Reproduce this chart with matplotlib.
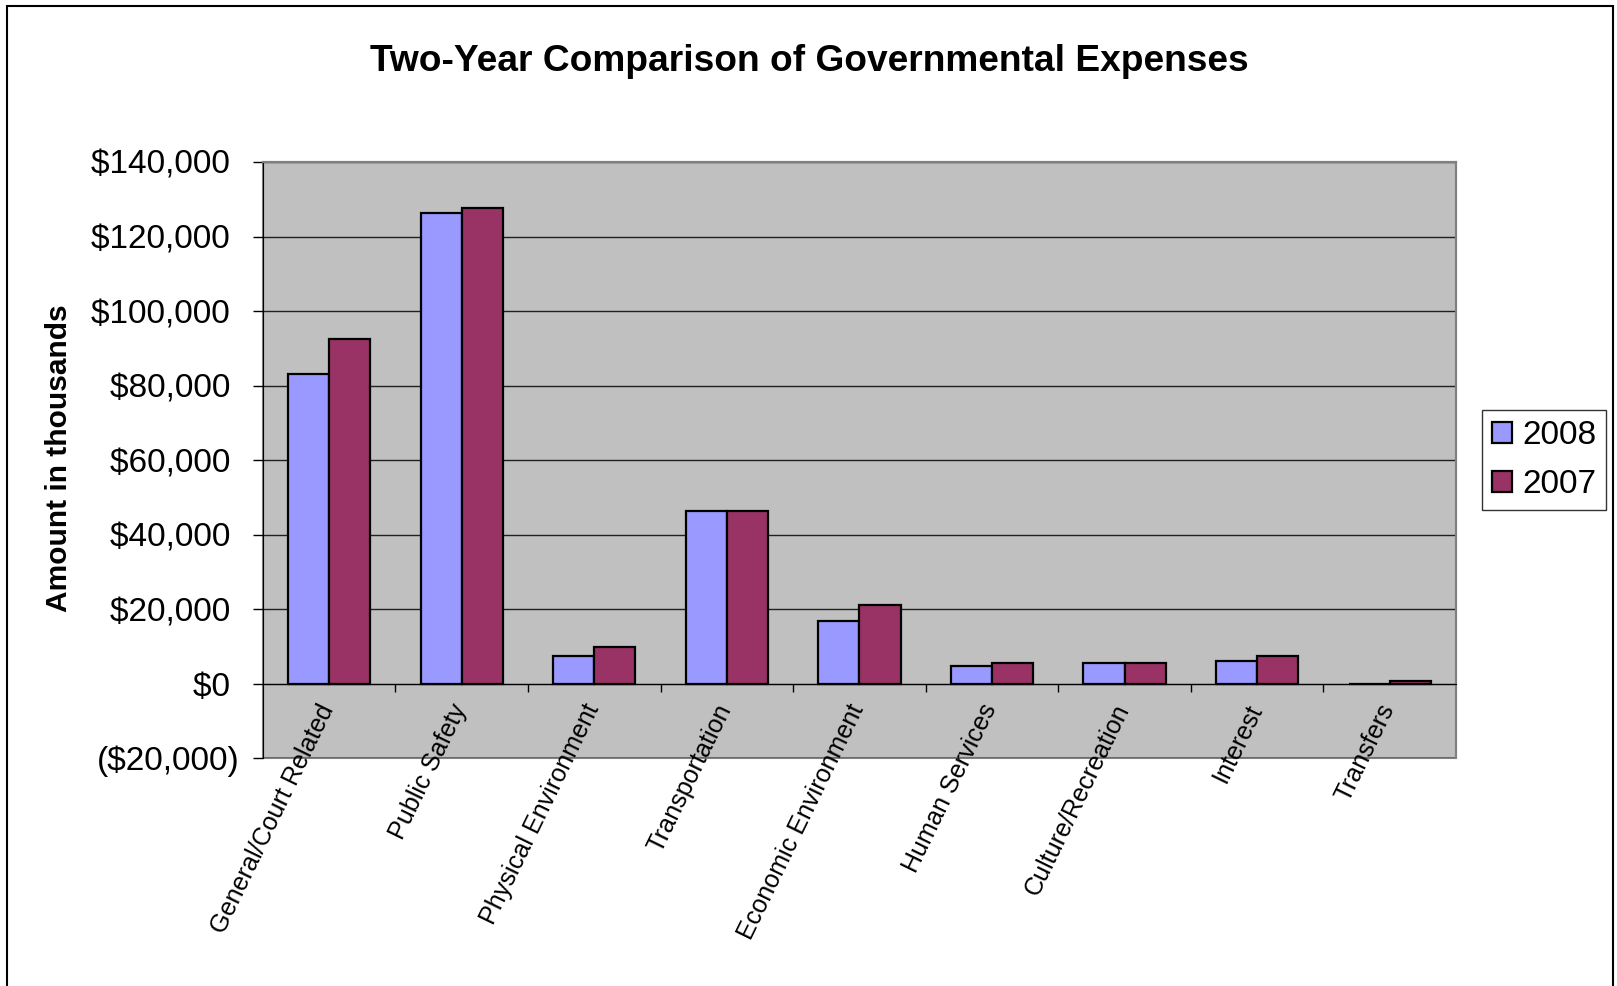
import numpy as np
import matplotlib
matplotlib.use("Agg")
import matplotlib.pyplot as plt
from matplotlib.patches import Rectangle
from matplotlib.ticker import FuncFormatter

plt.rcParams['font.family'] = ['Liberation Sans', 'DejaVu Sans']

# data (amount in thousands)
categories = ["General/Court Related", "Public Safety", "Physical Environment",
              "Transportation", "Economic Environment", "Human Services",
              "Culture/Recreation", "Interest", "Transfers"]
y2008 = [83200, 126400, 7400, 46200, 16900, 4800, 5400, 6100, 0]
y2007 = [92500, 127700, 9800, 46200, 21200, 5500, 5400, 7300, 600]
series_names = ["2008", "2007"]


def money(v, pos):
    # accounting style: positives keep room for the closing parenthesis
    if v < 0:
        return "(${:,.0f})".format(-v)
    return "${:,.0f} ".format(v)


def main():
    fig = plt.figure(figsize=(16.17, 9.86), dpi=100)
    ax = fig.add_axes([0.1626, 0.2312, 0.7378, 0.6045])

    x = np.arange(len(categories))
    w = 0.31
    ax.bar(x - w/2, y2008, w, color="#9999FF", edgecolor="black", lw=1.6,
           label=series_names[0], zorder=3)
    ax.bar(x + w/2, y2007, w, color="#993366", edgecolor="black", lw=1.6,
           label=series_names[1], zorder=3)

    ax.set_xlim(-0.5, len(categories) - 0.5)
    ax.set_ylim(-20000, 140000)
    ax.set_facecolor("#C0C0C0")
    ax.set_yticks(np.arange(-20000, 140001, 20000))
    ax.yaxis.set_major_formatter(FuncFormatter(money))
    ax.grid(axis="y", color="#202020", lw=1, zorder=1)
    ax.tick_params(axis="y", direction="out", length=7, width=1,
                   labelsize=24, pad=10)

    # category axis crosses at zero, labels just under it
    ax.spines['bottom'].set_position(('data', 0))
    ax.spines['bottom'].set_zorder(4)
    ax.set_xticks(x)
    ax.set_xticklabels([])
    ax.set_xticks(np.arange(0.5, len(categories) - 0.5, 1), minor=True)
    ax.tick_params(axis="x", which="major", length=0)
    ax.tick_params(axis="x", which="minor", direction="out", length=6, width=1)
    for i, cat in enumerate(categories):
        ax.annotate(cat, xy=(i, 0), xytext=(-8.5, -12),
                    textcoords="offset points", rotation=64, ha="right",
                    va="top", rotation_mode="anchor", fontsize=18.1,
                    annotation_clip=False)

    for s in ["top", "right"]:
        ax.spines[s].set_color("#808080")
        ax.spines[s].set_linewidth(1.5)
    ax.spines['left'].set_color("black")
    ax.add_patch(Rectangle((0, 0), 1, 1, transform=ax.transAxes, fill=False,
                           edgecolor="#808080", lw=1.5, zorder=0.5,
                           clip_on=False))

    fig.text(59/1617, 1 - 458/986, "Amount in thousands", rotation=90,
             ha="center", va="center", fontsize=21.5, fontweight="bold")
    fig.text(0.5006, 0.938, "Two-Year Comparison of Governmental Expenses",
             ha="center", va="center", fontsize=26.7, fontweight="bold")

    leg = ax.legend(loc="center left", bbox_to_anchor=(1.022, 0.5),
                    fontsize=24, frameon=True, fancybox=False,
                    handlelength=0.6, handleheight=0.6, handletextpad=0.3,
                    borderpad=0.3, labelspacing=0.55, borderaxespad=0)
    leg.get_frame().set_edgecolor("black")
    leg.get_frame().set_linewidth(1)

    # outer chart frame
    fig.patches.append(Rectangle((7/1617, -0.02), (1613-7)/1617, 1.02 - 6/986,
                                 transform=fig.transFigure, fill=False,
                                 edgecolor="black", lw=1.5))

    fig.savefig("out.png", dpi=100, facecolor="white")


if __name__ == '__main__':
    main()
